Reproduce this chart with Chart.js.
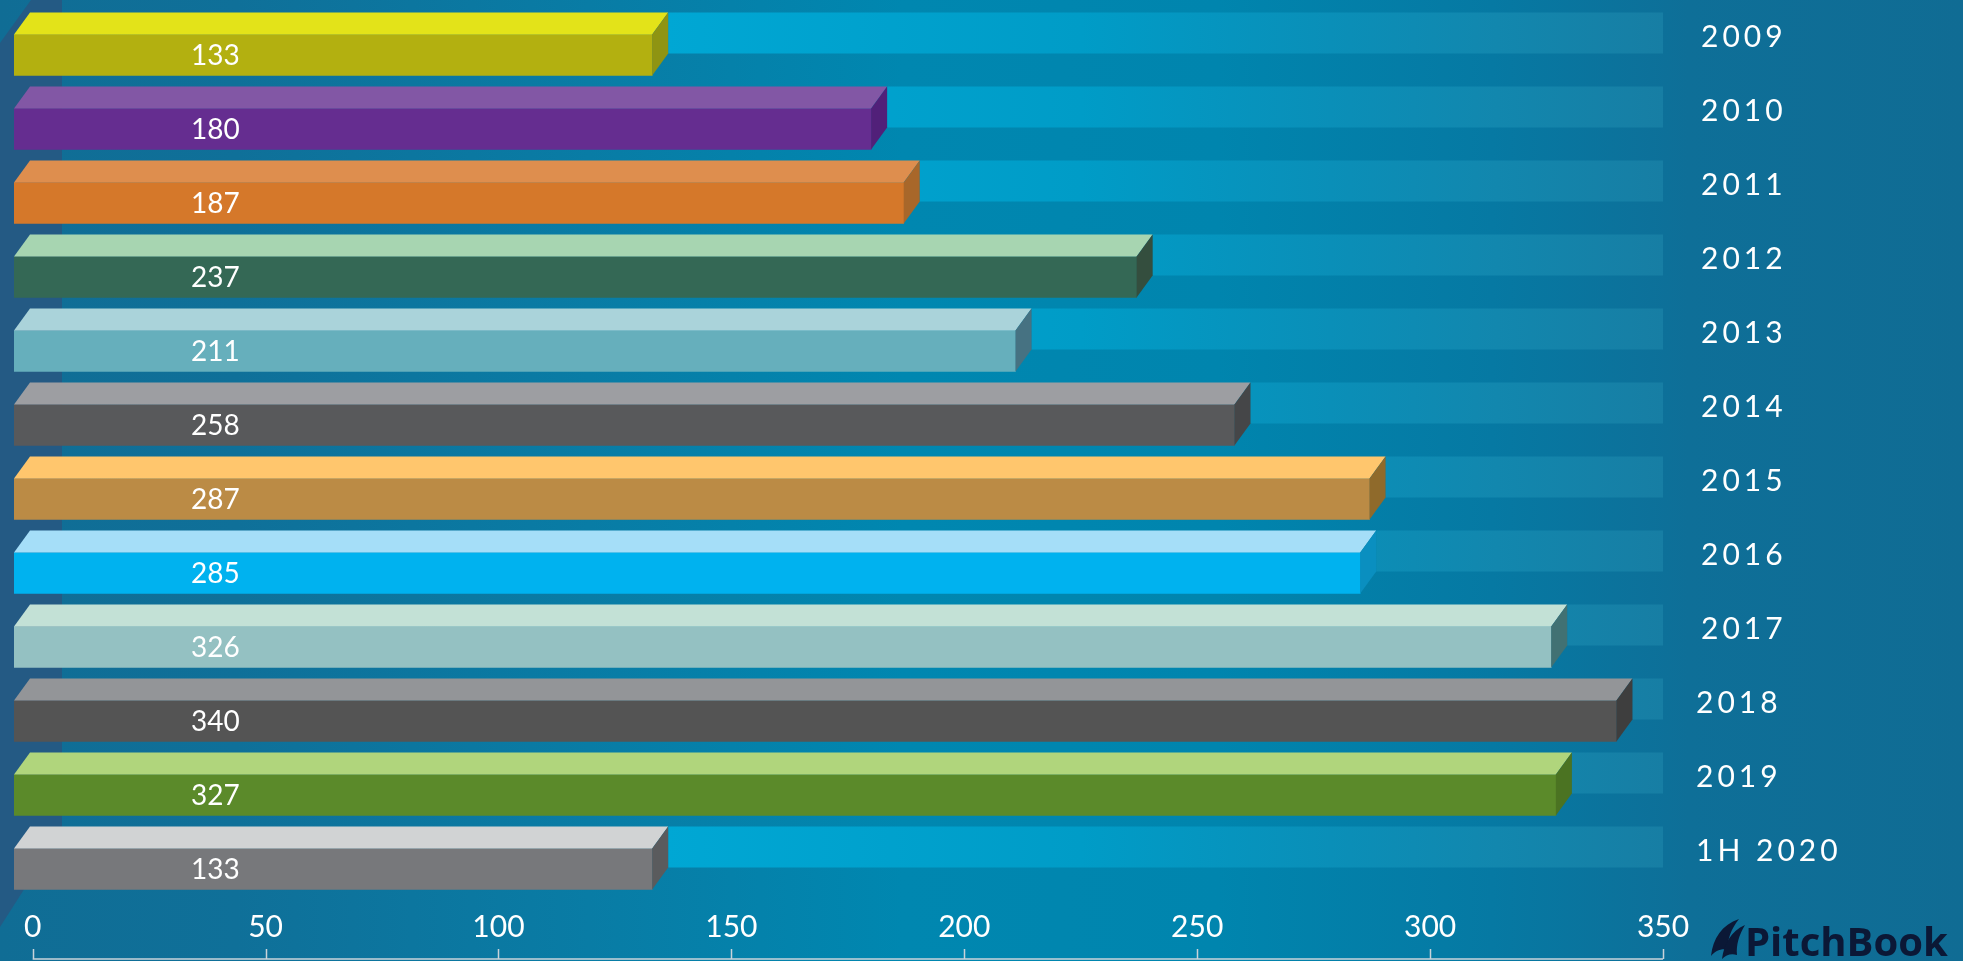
<!DOCTYPE html>
<html>
<head>
<meta charset="utf-8">
<title>Deal count by year</title>
<script src="https://cdn.jsdelivr.net/npm/chart.js@4.4.1/dist/chart.umd.min.js"></script>
<style>
  html, body { margin: 0; padding: 0; background: #0e6f98; overflow: hidden; }
  #wrap { width: 1963px; height: 961px; }
</style>
</head>
<body>
<div id="wrap"><canvas id="chart" width="1963" height="961"></canvas></div>
<script>
"use strict";

/* ---------- data ---------- */
const years = ["2009", "2010", "2011", "2012", "2013", "2014", "2015", "2016", "2017", "2018", "2019", "1H 2020"];
const dealCounts = [133, 180, 187, 237, 211, 258, 287, 285, 326, 340, 327, 133];
const xTicks = [0, 50, 100, 150, 200, 250, 300, 350];

const frontColors = ["#b3b010", "#652d90", "#d5782a", "#346855", "#66afbc", "#58595b",
  "#bb8b45", "#00b2ef", "#94c1c2", "#545454", "#5b8a2a", "#77787b"];
const topColors = ["#e3e319", "#8257a5", "#de8e4e", "#a7d5b1", "#aad3da", "#9d9ea2",
  "#ffc66d", "#a5def8", "#c3e1d6", "#939598", "#b0d57c", "#d1d3d4"];
const sideColors = ["#8f9412", "#512079", "#a8672a", "#344e3e", "#467282", "#454648",
  "#8f6a2b", "#0a8fc0", "#417173", "#3e3e3e", "#4b7322", "#5a5b5d"];

/* ---------- look ---------- */
const DEPTH_X = 16;
const DEPTH_Y = 22;
const FONT = "Lato, 'Open Sans', sans-serif";

/* ---------- drawing helpers ---------- */
function poly(ctx, pts, color) {
  ctx.beginPath();
  ctx.moveTo(pts[0][0], pts[0][1]);
  for (let i = 1; i < pts.length; i++) ctx.lineTo(pts[i][0], pts[i][1]);
  ctx.closePath();
  ctx.fillStyle = color;
  ctx.fill();
}

function drawBackground(chart) {
  const { ctx, width, height } = chart;
  const g = ctx.createLinearGradient(0, 0, width, 0);
  g.addColorStop(0, "#106d95");
  g.addColorStop(0.12, "#0f7099");
  g.addColorStop(0.3, "#097ca5");
  g.addColorStop(0.46, "#0087b0");
  g.addColorStop(0.62, "#0085ae");
  g.addColorStop(0.76, "#0679a3");
  g.addColorStop(0.86, "#0e6f98");
  g.addColorStop(1, "#106c94");
  ctx.fillStyle = g;
  ctx.fillRect(0, 0, width, height);
  // dark slanted strip at the left edge
  poly(ctx, [[31, 0], [62, 0], [62, 830], [0, 927], [0, 43]], "#245a84");
}

function barProps(chart) {
  const meta = chart.getDatasetMeta(0);
  return meta.data.map((el) => el.getProps(["x", "y", "base", "height"], true));
}

function drawTracks(chart) {
  const { ctx } = chart;
  const xs = chart.scales.x;
  const right = xs.getPixelForValue(xs.max);
  const g = ctx.createLinearGradient(0, 0, right, 0);
  g.addColorStop(0, "#00abd9");
  g.addColorStop(0.4, "#00a7d4");
  g.addColorStop(0.65, "#009cc7");
  g.addColorStop(0.8, "#0a8fb8");
  g.addColorStop(0.9, "#1287ae");
  g.addColorStop(1, "#177ea4");
  barProps(chart).forEach((b) => {
    const top = b.y - b.height / 2 - DEPTH_Y;
    const left = b.x + DEPTH_X;
    if (right <= left) return;
    ctx.fillStyle = g;
    ctx.fillRect(left, top, right - left, b.height);
  });
}

function drawFaces(chart) {
  const { ctx } = chart;
  barProps(chart).forEach((b, i) => {
    const yTop = b.y - b.height / 2;
    const yBot = b.y + b.height / 2;
    poly(ctx, [[b.base, yTop], [b.base + DEPTH_X, yTop - DEPTH_Y],
      [b.x + DEPTH_X, yTop - DEPTH_Y], [b.x, yTop]], topColors[i]);
    poly(ctx, [[b.x, yTop], [b.x + DEPTH_X, yTop - DEPTH_Y],
      [b.x + DEPTH_X, yBot - DEPTH_Y], [b.x, yBot]], sideColors[i]);

    // value inside the front face
    ctx.fillStyle = "#ffffff";
    ctx.font = "28px " + FONT;
    ctx.textAlign = "left";
    ctx.textBaseline = "middle";
    ctx.fillText(String(dealCounts[i]), b.base + 177, b.y + 1);

    // year label on the right
    ctx.save();
    ctx.font = "30px " + FONT;
    ctx.letterSpacing = "4px";
    ctx.fillText(years[i], i >= 9 ? 1696 : 1701, yTop + 3);
    ctx.restore();
  });
}

function drawAxis(chart) {
  const { ctx } = chart;
  const xs = chart.scales.x;
  const y = 959;
  ctx.strokeStyle = "#c9d3da";
  ctx.lineWidth = 1.5;
  ctx.beginPath();
  ctx.moveTo(xs.getPixelForValue(xTicks[0]), y);
  ctx.lineTo(xs.getPixelForValue(xTicks[xTicks.length - 1]), y);
  xTicks.forEach((v) => {
    const px = Math.round(xs.getPixelForValue(v)) + 0.5;
    ctx.moveTo(px, y);
    ctx.lineTo(px, y - 10);
  });
  ctx.stroke();
}

function drawLogo(chart) {
  const { ctx } = chart;
  ctx.save();
  ctx.fillStyle = "#0b1836";
  // sail mark
  ctx.beginPath();
  ctx.moveTo(1711, 956);
  ctx.bezierCurveTo(1713, 938, 1722, 925, 1739, 919);
  ctx.bezierCurveTo(1731, 929, 1727, 940, 1728, 950);
  ctx.bezierCurveTo(1722, 948, 1715, 951, 1711, 956);
  ctx.closePath();
  ctx.fill();
  ctx.beginPath();
  ctx.moveTo(1722, 959);
  ctx.bezierCurveTo(1724, 944, 1731, 931, 1745, 925);
  ctx.bezierCurveTo(1739, 935, 1736, 945, 1737, 955);
  ctx.bezierCurveTo(1731, 953, 1726, 955, 1722, 959);
  ctx.closePath();
  ctx.fill();
  ctx.font = "700 40px 'Open Sans', sans-serif";
  ctx.textAlign = "left";
  ctx.textBaseline = "alphabetic";
  ctx.fillText("PitchBook", 1745, 956);
  ctx.restore();
}

const scene = {
  id: "scene",
  beforeDraw(chart) { drawBackground(chart); },
  beforeDatasetsDraw(chart) { drawTracks(chart); },
  afterDatasetsDraw(chart) { drawFaces(chart); },
  afterDraw(chart) { drawAxis(chart); drawLogo(chart); },
};

/* ---------- chart ---------- */
new Chart(document.getElementById("chart"), {
  type: "bar",
  data: {
    labels: years,
    datasets: [{
      data: dealCounts,
      backgroundColor: frontColors,
      borderWidth: 0,
      barThickness: 41,
      base: -4,
    }],
  },
  options: {
    indexAxis: "y",
    responsive: false,
    animation: false,
    layout: { padding: { left: 14, right: 300, top: 18, bottom: 13 } },
    plugins: { legend: { display: false }, tooltip: { enabled: false } },
    scales: {
      x: {
        min: -4,
        max: 350,
        afterBuildTicks: (scale) => { scale.ticks = xTicks.map((v) => ({ value: v })); },
        grid: { display: false, drawTicks: false },
        border: { display: false },
        ticks: { color: "#ffffff", font: { family: FONT, size: 30 }, padding: 3, maxRotation: 0 },
      },
      y: { display: false },
    },
  },
  plugins: [scene],
});
</script>
</body>
</html>
